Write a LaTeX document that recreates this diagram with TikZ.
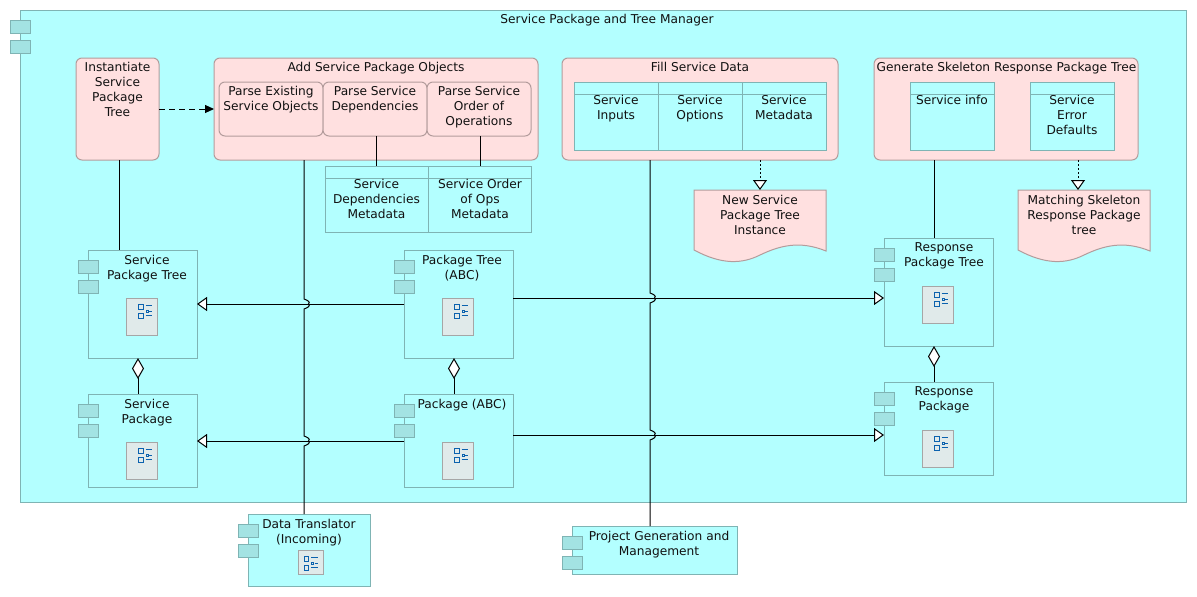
\documentclass[tikz,border=0pt]{standalone}
\usepackage{fontspec}
\setmainfont{DejaVu Sans}
\usetikzlibrary{arrows.meta}
\definecolor{cy}{HTML}{B3FFFF}
\definecolor{cyb}{HTML}{7FB4B4}
\definecolor{tabf}{HTML}{A3E3E3}
\definecolor{pk}{HTML}{FFE0E0}
\definecolor{pkb}{HTML}{B39C9C}
\definecolor{icf}{HTML}{E0EAEA}
\definecolor{icb}{HTML}{A6A6A6}
\definecolor{icg}{HTML}{0B62AE}
\definecolor{tx}{HTML}{111111}
\tikzset{
 x=1pt,y=-1pt,
 base/.style={inner sep=0pt,outer sep=0pt,line width=1pt,anchor=north west},
 cbox/.style={base,draw=cyb,fill=cy},
 tabbox/.style={base,draw=cyb,fill=tabf},
 pbox/.style={base,draw=pkb,fill=pk,rounded corners=6pt},
 psub/.style={base,draw=pkb,fill=pk,rounded corners=6pt},
 docbox/.style={base},
 icbox/.style={base,draw=icb,fill=icf},
 lbl/.style={anchor=north,align=center,inner sep=0pt,outer sep=0pt,text=tx,font=\fontsize{12.2}{15}\selectfont},
 conn/.style={line width=1pt,black},
 inh/.style={conn,-{Triangle[open,fill=white,length=10pt,width=14pt,line width=1pt]}},
 agg/.style={conn,{Diamond[open,fill=white,length=21pt,width=12pt,line width=1pt]}-},
 depa/.style={conn,dash pattern=on 6pt off 4pt,-{Triangle[length=9pt,width=8pt]}},
 real/.style={conn,line width=0.8pt,dash pattern=on 2pt off 2pt,-{Triangle[open,fill=white,length=10pt,width=14pt,line width=1pt]}},
}
% box: style, name, x0,y0,x1,y1
\newcommand{\bx}[6]{%
 \pgfmathsetmacro{\bw}{#5-#3}\pgfmathsetmacro{\bh}{#6-#4}%
 \node[#1,minimum width=\bw pt,minimum height=\bh pt] (#2) at (#3,#4) {};}
% component: name, x0,y0,x1,y1
\newcommand{\comp}[5]{%
 \bx{cbox}{#1}{#2}{#3}{#4}{#5}%
 \pgfmathsetmacro{\ta}{#2-10}\pgfmathsetmacro{\tb}{#2+10}%
 \pgfmathsetmacro{\tc}{#3+10}\pgfmathsetmacro{\td}{#3+23}%
 \pgfmathsetmacro{\te}{#3+30}\pgfmathsetmacro{\tf}{#3+43}%
 \bx{tabbox}{#1-tabA}{\ta}{\tc}{\tb}{\td}%
 \bx{tabbox}{#1-tabB}{\ta}{\te}{\tb}{\tf}}
% icon: name,x0,y0,x1,y1, glyph dx, glyph dy
\newcommand{\icon}[7]{%
 \bx{icbox}{#1}{#2}{#3}{#4}{#5}%
 \begin{scope}[shift={(#2+#6,#3+#7)},icg,line width=1pt]
  \draw (0,0) rectangle (4.7,4.7);
  \draw (0,9) rectangle (4.7,13.7);
  \draw (7.5,6) rectangle (9.5,8);
  \draw (7,1.3) -- (13.5,1.3);
  \draw (7,10.5) -- (13.5,10.5);
  \draw (10.5,7) -- (13.5,7);
 \end{scope}}
% table: name,x0,y0,x1,y1
\newcommand{\tbl}[5]{%
 \bx{cbox}{#1}{#2}{#3}{#4}{#5}%
 \pgfmathsetmacro{\hy}{#3+12}%
 \draw[cyb,line width=1pt] (#2,\hy) -- (#4,\hy);}
% document: name, x0, x1
\newcommand{\docu}[3]{%
 \pgfmathsetmacro{\dw}{#3-#2}%
 \node[docbox,minimum width=\dw pt,minimum height=73pt] (#1) at (#2,190) {};
 \draw[pkb,fill=pk,line width=1pt] (#2,190) -- (#3,190) -- (#3,251)
  .. controls (#2+105,240) and (#2+85,246) .. (#2+66,255)
  .. controls (#2+48,264) and (#2+28,265) .. (#2,250) -- cycle;}
\begin{document}
\begin{tikzpicture}
\useasboundingbox (0,0) rectangle (1197,597);
\fill[white] (0,0) rectangle (1197,597);
\comp{mgr}{20}{10}{1186}{502}
\node[lbl] (mgr-t) at (607,14) {Service Package and Tree Manager};

% activities
\bx{pbox}{inst}{76}{58}{159}{160}
\node[lbl] (inst-t) at (117.5,62) {Instantiate\\Service\\Package\\Tree};
\bx{pbox}{add}{214}{58}{538}{160}
\node[lbl] (add-t) at (376,62) {Add Service Package Objects};
\bx{psub}{pa}{219}{82}{323}{136}
\bx{psub}{pb}{323}{82}{427}{136}
\bx{psub}{pc}{427}{82}{531}{136}
\node[lbl] (pa-t) at (271,86) {Parse Existing\\Service Objects};
\node[lbl] (pb-t) at (375,86) {Parse Service\\Dependencies};
\node[lbl] (pc-t) at (479,86) {Parse Service\\Order of\\Operations};
\bx{pbox}{fill}{562}{58}{838}{160}
\node[lbl] (fill-t) at (700,62) {Fill Service Data};
\tbl{ft}{574}{82}{826}{150}
\draw[cyb,line width=1pt] (658,82) -- (658,150) (742,82) -- (742,150);
\node[lbl] (fa-t) at (616,95) {Service\\Inputs};
\node[lbl] (fb-t) at (700,95) {Service\\Options};
\node[lbl] (fc-t) at (784,95) {Service\\Metadata};
\bx{pbox}{gen}{874}{58}{1138}{160}
\node[lbl] (gen-t) at (1006.5,62) {Generate Skeleton Response Package Tree};
\tbl{ga}{910}{82}{994}{150}
\tbl{gb}{1030}{82}{1114}{150}
\node[lbl] (ga-t) at (952,95) {Service info};
\node[lbl] (gb-t) at (1072,95) {Service\\Error\\Defaults};

% metadata table
\tbl{md}{325}{166}{531}{232}
\draw[cyb,line width=1pt] (428,166) -- (428,232);
\node[lbl] (mda-t) at (376.5,179) {Service\\Dependencies\\Metadata};
\node[lbl] (mdb-t) at (480,179) {Service Order\\of Ops\\Metadata};

% documents
\docu{da}{694}{826}
\node[lbl] (da-t) at (760,195) {New Service\\Package Tree\\Instance};
\docu{db}{1018}{1150}
\node[lbl] (db-t) at (1084,195) {Matching Skeleton\\Response Package\\tree};

% components
\comp{spt}{88}{250}{197}{358}
\node[lbl] (spt-t) at (147,255) {Service\\Package Tree};
\icon{spt-i}{126}{298}{157}{335}{12.5}{6.5}
\comp{sp}{88}{394}{197}{487}
\node[lbl] (sp-t) at (147,399) {Service\\Package};
\icon{sp-i}{126}{442}{157}{479}{12.5}{6.5}
\comp{pt}{404}{250}{513}{358}
\node[lbl] (pt-t) at (462,255) {Package Tree\\(ABC)};
\icon{pt-i}{442}{298}{473}{335}{12.5}{6.5}
\comp{pk}{404}{394}{513}{487}
\node[lbl] (pk-t) at (462,399) {Package (ABC)};
\icon{pk-i}{442}{442}{473}{479}{12.5}{6.5}
\comp{rpt}{884}{238}{993}{346}
\node[lbl] (rpt-t) at (944,243) {Response\\Package Tree};
\icon{rpt-i}{922}{286}{953}{323}{12.5}{6.5}
\comp{rp}{884}{382}{993}{475}
\node[lbl] (rp-t) at (944,387) {Response\\Package};
\icon{rp-i}{922}{430}{953}{467}{12.5}{6.5}
\comp{dt}{248}{514}{370}{586}
\node[lbl] (dt-t) at (309,519) {Data Translator\\(Incoming)};
\icon{dt-i}{298}{550}{323}{574}{6}{6.5}
\comp{pg}{572}{526}{737}{574}
\node[lbl] (pg-t) at (659,531) {Project Generation and\\Management};

% connectors
\draw[depa] (159,109 -| inst.east) -- (214,109 -| add.west);
\draw[conn] (119,0 |- inst.south) -- (119,0 |- spt.north);
\draw[conn] (376,0 |- pb.south) -- (376,0 |- md.north);
\draw[conn] (480,0 |- pc.south) -- (480,0 |- md.north);
\draw[conn] (934,0 |- gen.south) -- (934,0 |- rpt.north);
\draw[real] (760,0 |- fill.south) -- (760,0 |- da.north);
\draw[real] (1078,0 |- gen.south) -- (1078,0 |- db.north);
\draw[inh] (pt.west |- 0,304) -- (spt.east |- 0,304);
\draw[inh] (pk.west |- 0,441) -- (sp.east |- 0,441);
\draw[inh] (pt.east |- 0,298) -- (rpt.west |- 0,298);
\draw[inh] (pk.east |- 0,435) -- (rp.west |- 0,435);
\draw[agg] (138,0 |- spt.south) -- (138,0 |- sp.north);
\draw[agg] (454,0 |- pt.south) -- (454,0 |- pk.north);
\draw[agg] (934,0 |- rpt.south) -- (934,0 |- rp.north);
\draw[conn] (304,0 |- add.south) -- (304,299)
  .. controls (307,300) and (311,302) .. (308.5,304)
  .. controls (311,306) and (307,308) .. (304,309) -- (304,436)
  .. controls (307,437) and (311,439) .. (308.5,441)
  .. controls (311,443) and (307,445) .. (304,446) -- (304,0 |- dt.north);
\draw[conn] (650,0 |- fill.south) -- (650,293)
  .. controls (653,294) and (657,296) .. (654.5,298)
  .. controls (657,300) and (653,302) .. (650,303) -- (650,430)
  .. controls (653,431) and (657,433) .. (654.5,435)
  .. controls (657,437) and (653,439) .. (650,440) -- (650,0 |- pg.north);
\end{tikzpicture}
\end{document}
